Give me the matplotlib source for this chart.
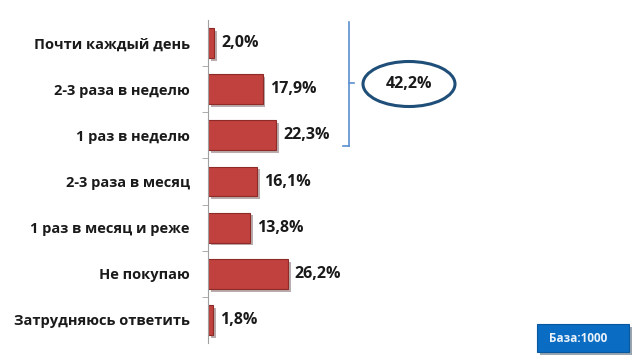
#!/usr/bin/env python3
"""Purchase frequency bar chart."""

import matplotlib

matplotlib.use("Agg")
import matplotlib.pyplot as plt
from matplotlib import patheffects
from matplotlib.patches import Ellipse, FancyBboxPatch
from matplotlib.lines import Line2D

categories = [
    "Почти каждый день",
    "2-3 раза в неделю",
    "1 раз в неделю",
    "2-3 раза в месяц",
    "1 раз в месяц и реже",
    "Не покупаю",
    "Затрудняюсь ответить",
]
values = [2.0, 17.9, 22.3, 16.1, 13.8, 26.2, 1.8]
value_labels = ["2,0%", "17,9%", "22,3%", "16,1%", "13,8%", "26,2%", "1,8%"]
group_total = "42,2%"
base_label = "База:1000"

plt.rcParams["font.family"] = ["Open Sans", "DejaVu Sans"]

fig = plt.figure(figsize=(6.36, 3.64), dpi=100)
W, H = 636, 364

# axes spans from the axis line (x=208) to the right edge
ax = fig.add_axes([208 / W, 1 - 343 / H, 400 / W, 323 / H])
ax.set_xlim(0, 400 / 3.05)
n = len(categories)
ax.set_ylim(n - 0.5, -0.5)

shadow = [patheffects.SimplePatchShadow(offset=(2, -2), alpha=0.35), patheffects.Normal()]
bars = ax.barh(range(n), values, height=0.65, color="#C0413D", edgecolor="#8E2B28", linewidth=0.8)
for bar in bars:
    bar.set_path_effects(shadow)

for i, (v, lab) in enumerate(zip(values, value_labels)):
    ax.annotate(lab, (v, i), xytext=(5, 0), textcoords="offset points",
                va="center", ha="left", fontsize=11.5, fontweight="bold", color="#1a1a1a")

ax.set_yticks(range(n))
ax.set_yticklabels(categories, fontsize=10.5, fontweight="bold", color="#1a1a1a")
ax.set_yticks([i + 0.5 for i in range(n - 1)], minor=True)
ax.tick_params(axis="y", which="major", length=0, pad=13)
ax.tick_params(axis="y", which="minor", length=4, color="#a0a0a0", direction="out")
ax.set_xticks([])
for side in ("top", "right", "bottom"):
    ax.spines[side].set_visible(False)
ax.spines["left"].set_color("#a0a0a0")

# brace on the right of the first three bars
blue = "#5B8FCF"
def fx(px):
    return px / W
def fy(py):
    return 1 - py / H
for xs, ys in (
    ([349, 349], [22, 146]),
    ([343, 349], [146, 146]),
    ([349, 354], [83, 83]),
):
    fig.add_artist(Line2D([fx(x) for x in xs], [fy(y) for y in ys], color=blue, lw=1.2))

ell = Ellipse((fx(409), fy(84)), 92 / W, 45 / H, transform=fig.transFigure,
              fill=False, edgecolor="#1F4E79", lw=2.2)
fig.add_artist(ell)
fig.text(fx(409), fy(84), group_total, ha="center", va="center", fontsize=11.5,
         fontweight="bold", color="#1a1a1a")

box = FancyBboxPatch((fx(537), fy(352)), 92 / W, 28 / H, boxstyle="square,pad=0",
                     transform=fig.transFigure, facecolor="#0A6CC2", edgecolor="#0858A0", lw=0.8)
box.set_path_effects([patheffects.SimplePatchShadow(offset=(2, -2), alpha=0.4), patheffects.Normal()])
fig.add_artist(box)
fig.text(fx(578), fy(338), base_label, ha="center", va="center", fontsize=8.5,
         fontweight="bold", color="#EAF2FA")

fig.savefig("out.png", dpi=100, facecolor="white")
